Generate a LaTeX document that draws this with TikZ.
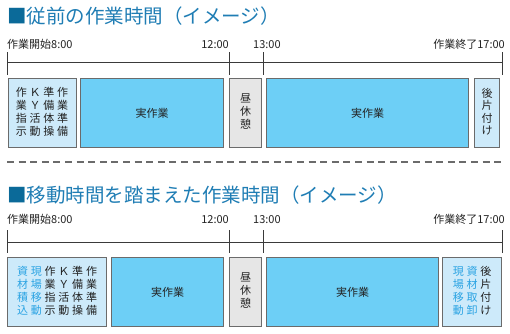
\documentclass[tikz,border=0pt]{standalone}
\usepackage{fontspec}
\setmainfont{Noto Sans CJK JP}
\usepackage{xcolor}
\usepackage{tikz}
\usetikzlibrary{positioning}
\definecolor{titleblue}{HTML}{1F7DB4}
\definecolor{squareblue}{HTML}{0B6A99}
\definecolor{lightblue}{HTML}{CDEAFA}
\definecolor{workblue}{HTML}{6DCFF6}
\definecolor{breakgray}{HTML}{E6E6E6}
\definecolor{edgegray}{HTML}{6B6B6B}
\definecolor{linegray}{HTML}{3A3A3A}
\definecolor{movetext}{HTML}{2AA3E3}
\definecolor{darktext}{HTML}{222222}
\newcommand{\mv}[1]{\textcolor{movetext}{#1}}
\setlength{\tabcolsep}{1.4pt}

\begin{document}
\begin{tikzpicture}[
  x=1pt, y=-1pt,
  heading/.style={anchor=west, inner sep=0pt, text=titleblue,
                  font=\fontsize{19.5}{21}\selectfont},
  timelabel/.style={inner sep=0pt, text=darktext, font=\fontsize{11}{12}\selectfont},
  slot/.style={draw=edgegray, line width=1.1pt, anchor=north west, inner sep=0pt,
               text=darktext, font=\fontsize{11}{11.6}\selectfont},
  prep/.style={slot, fill=lightblue},
  work/.style={slot, fill=workblue},
  lunch/.style={slot, fill=breakgray},
  axis/.style={draw=linegray, line width=1pt}
]
  \useasboundingbox (0,0) rectangle (510,333);

  % ---- before
  \node[heading] (headA) at (7,16) {\textcolor{squareblue}{■}従前の作業時間（イメージ）};

  \coordinate (a8) at (7.5,62);
  \coordinate (a12) at (229,62);
  \coordinate (a13) at (263,62);
  \coordinate (a17) at (502,62);
  \draw[axis] (a8) -- (a17);
  \foreach \t in {a8,a12,a13,a17}
    \draw[axis] ([yshift=10pt]\t) -- ([yshift=-13pt]\t);

  \node[timelabel, anchor=base west] (labA8) at (7,48) {作業開始8:00};
  \node[timelabel, anchor=base east] (labA12) at (229,48) {12:00};
  \node[timelabel, anchor=base west] (labA13) at (253,48) {13:00};
  \node[timelabel, anchor=base east] (labA17) at (505,48) {作業終了17:00};

  \node[prep, minimum width=68pt, minimum height=69pt] (prepA) at (7.5,78)
    {\begin{tabular}{@{}cccc@{}}
     作&Ｋ&準&作\\ 業&Ｙ&備&業\\ 指&活&体&準\\ 示&動&操&備
     \end{tabular}};
  \node[work, minimum width=143pt, minimum height=69pt] (workA1) at (80,78) {実作業};
  \node[lunch, minimum width=32pt, minimum height=69pt] (lunchA) at (229,78)
    {\begin{tabular}{@{}c@{}}昼\\休\\憩\end{tabular}};
  \node[work, minimum width=202pt, minimum height=69pt] (workA2) at (266,78) {実作業};
  \node[prep, minimum width=25pt, minimum height=69pt] (cleanA) at (474,78)
    {\begin{tabular}{@{}c@{}}後\\片\\付\\け\end{tabular}};

  % ---- separator
  \coordinate (sepL) at (7,162);
  \coordinate (sepR) at (503,162);
  \draw[draw=edgegray, line width=1.1pt, dash pattern=on 7pt off 4.6pt] (sepL) -- (sepR);

  % ---- with travel time
  \node[heading] (headB) at (7,195)
    {\textcolor{squareblue}{■}移動時間を踏まえた作業時間（イメージ）};

  \coordinate (b8) at (7,242);
  \coordinate (b12) at (229,242);
  \coordinate (b13) at (263,242);
  \coordinate (b17) at (502,242);
  \draw[axis] (b8) -- (b17);
  \foreach \t in {b8,b12,b13,b17}
    \draw[axis] ([yshift=12pt]\t) -- ([yshift=-11pt]\t);

  \node[timelabel, anchor=base west] (labB8) at (7,223) {作業開始8:00};
  \node[timelabel, anchor=base east] (labB12) at (229,223) {12:00};
  \node[timelabel, anchor=base west] (labB13) at (253,223) {13:00};
  \node[timelabel, anchor=base east] (labB17) at (505,223) {作業終了17:00};

  \node[prep, minimum width=99pt, minimum height=69pt] (prepB) at (7,257)
    {\begin{tabular}{@{}cccccc@{}}
     \mv{資}&\mv{現}&作&Ｋ&準&作\\
     \mv{材}&\mv{場}&業&Ｙ&備&業\\
     \mv{積}&\mv{移}&指&活&体&準\\
     \mv{込}&\mv{動}&示&動&操&備
     \end{tabular}};
  \node[work, minimum width=112pt, minimum height=69pt] (workB1) at (111,257) {実作業};
  \node[lunch, minimum width=32pt, minimum height=69pt] (lunchB) at (229,257)
    {\begin{tabular}{@{}c@{}}昼\\休\\憩\end{tabular}};
  \node[work, minimum width=172pt, minimum height=69pt] (workB2) at (266,257) {実作業};
  \node[prep, minimum width=59pt, minimum height=69pt] (cleanB) at (442,257)
    {\begin{tabular}{@{}ccc@{}}
     \mv{現}&\mv{資}&後\\
     \mv{場}&\mv{材}&片\\
     \mv{移}&\mv{取}&付\\
     \mv{動}&\mv{卸}&け
     \end{tabular}};
\end{tikzpicture}
\end{document}
